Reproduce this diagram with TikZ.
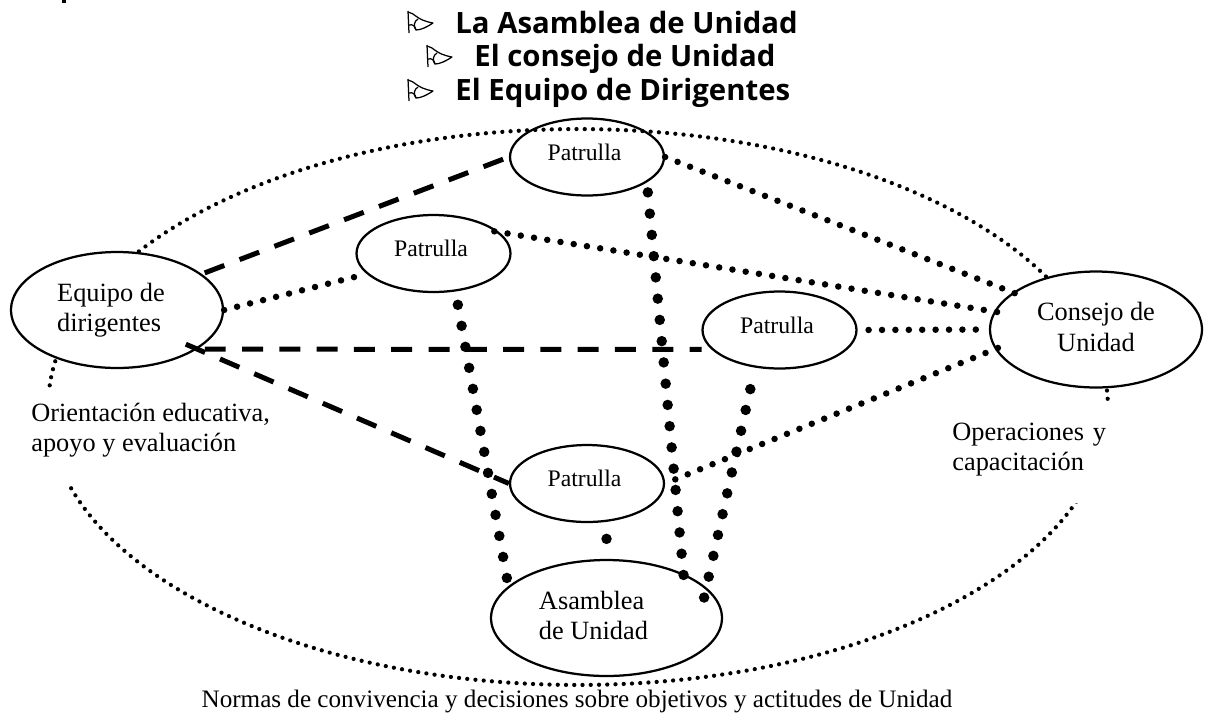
\documentclass[tikz,border=0pt]{standalone}
\usepackage{fontspec}
\setmainfont{Liberation Serif}
\newfontfamily\headfont{Open Sans}
\usetikzlibrary{shapes.geometric}
\tikzset{
  every picture/.style={x=0.02cm,y=-0.02cm},
  groupbox/.style={draw,ellipse,fill=white,line width=0.045cm,inner sep=0pt,minimum width=3.08cm,minimum height=1.54cm,font=\fontsize{13.5}{16}\selectfont},
  organbox/.style={draw,ellipse,fill=white,line width=0.045cm,inner sep=0pt,minimum width=4.24cm,minimum height=2.32cm,align=left,font=\fontsize{15}{17.4}\selectfont},
  ringline/.style={draw,ellipse,inner sep=0pt,line width=0.085cm,line cap=round,dash pattern=on 0pt off 0.165cm,minimum width=21.2cm,minimum height=11.12cm},
  notetext/.style={fill=white,inner sep=0pt,align=left,font=\fontsize{15}{17.4}\selectfont},
  headtext/.style={inner sep=0pt,anchor=base west,font=\headfont\bfseries\fontsize{16.7}{20}\selectfont},
  thick dash/.style={line width=0.1cm,dash pattern=on 0.42cm off 0.326cm},
  fine dots/.style={line width=0.13cm,line cap=round,dash pattern=on 0pt off 0.268cm},
  heavy dots/.style={line width=0.21cm,line cap=round,dash pattern=on 0pt off 0.427cm}
}
\newcommand{\patrulla}{\rule[-0.2cm]{0pt}{0.2cm}Patrulla\hspace*{0.1cm}}
\newcommand{\dropline}{\rule[-0.1cm]{0pt}{0.1cm}}
\begin{document}
\begin{tikzpicture}
  \useasboundingbox (0,0) rectangle (1206,714);
  \fill (62,0) rectangle (66,3);

  \foreach \flagx/\flagy in {409/33,428/67,409/101}{
    \draw[line width=0.025cm] (\flagx,\flagy) -- (\flagx-1,\flagy-22);
    \draw[line width=0.025cm,line join=round] (\flagx-1,\flagy-21) .. controls (\flagx+6,\flagy-20) and (\flagx+7,\flagy-13) .. (\flagx+24,\flagy-10)
      .. controls (\flagx+18,\flagy-6) and (\flagx+12,\flagy-3) .. (\flagx+7,\flagy-3)
      .. controls (\flagx+6,\flagy-7) and (\flagx+4,\flagy-9) .. (\flagx,\flagy-8);
    \draw[line width=0.025cm] (\flagx+7,\flagy-3) .. controls (\flagx+4,\flagy-6) and (\flagx+5,\flagy-12) .. (\flagx+9,\flagy-14);
  }
  \node[headtext] (headA) at (455,33) {La Asamblea de Unidad};
  \node[headtext] (headB) at (474,66.5) {El consejo de Unidad};
  \node[headtext] (headC) at (455,100) {El Equipo de Dirigentes};

  \node[groupbox] (patA) at (587,157) {\patrulla};
  \node[ringline] (ring) at (578,407) {};
  \node[groupbox] (patB) at (433.5,253.5) {\patrulla};
  \node[groupbox] (patC) at (779.5,330) {\patrulla};
  \node[groupbox] (patD) at (587,483.5) {\patrulla};
  \node[organbox] (equipo) at (117,310) {Equipo de\hspace*{0.24cm}\\dirigentes};
  \node[organbox,align=center] (consejo) at (1096,329.5) {Consejo de\\\dropline Unidad};
  \node[organbox,minimum width=4.62cm] (asamblea) at (606.5,618) {Asamblea\\\dropline de Unidad\hspace*{0.52cm}};

  \node[notetext,anchor=north west] (orient) at (31,388) {\rule{0pt}{0.66cm}Orientación educativa,\\\rule[-0.64cm]{0pt}{0.64cm}apoyo y evaluación};
  \node[notetext,anchor=north west,text width=3.5cm] (operac) at (952,405) {\rule{0pt}{0.7cm}Operaciones y\\\rule[-0.64cm]{0pt}{0.64cm}capacitación};
  \node[inner sep=0pt,anchor=base,font=\fontsize{14.3}{17}\selectfont] (normas) at (577,707) {Normas de convivencia y decisiones sobre objetivos y actitudes de Unidad};

  \draw[thick dash,shorten <=0.06cm] (equipo.23) -- (patA.180);
  \draw[thick dash,shorten <=0.15cm,shorten >=0.2cm] (equipo.-26) -- (patC.196);
  \draw[thick dash,shorten <=-0.25cm] (equipo.-26) -- (patD.180);

  \draw[fine dots] (equipo.0) -- (patB.197);
  \draw[fine dots,shorten >=-0.16cm] (patA.0) -- (consejo.156);
  \draw[fine dots,shorten <=-0.1cm,shorten >=-0.11cm] (patB.18) -- (consejo.170);
  \draw[fine dots,shorten <=0.22cm] (patC.0) -- (consejo.180);
  \draw[fine dots,shorten <=0.22cm,shorten >=-0.12cm] (patD.0) -- (consejo.191);

  \draw[heavy dots,shorten <=0.2cm,shorten >=-0.09cm] (patA.-23) -- (asamblea.30);
  \draw[heavy dots,shorten <=0.27cm,shorten >=0.13cm] (patB.-60) -- (asamblea.162);
  \draw[heavy dots,shorten <=0.44cm,shorten >=-0.23cm] (patC.-123) -- (asamblea.17);
  \draw[heavy dots,shorten <=0.34cm] (patD.-63) -- (asamblea.90);
\end{tikzpicture}
\end{document}
